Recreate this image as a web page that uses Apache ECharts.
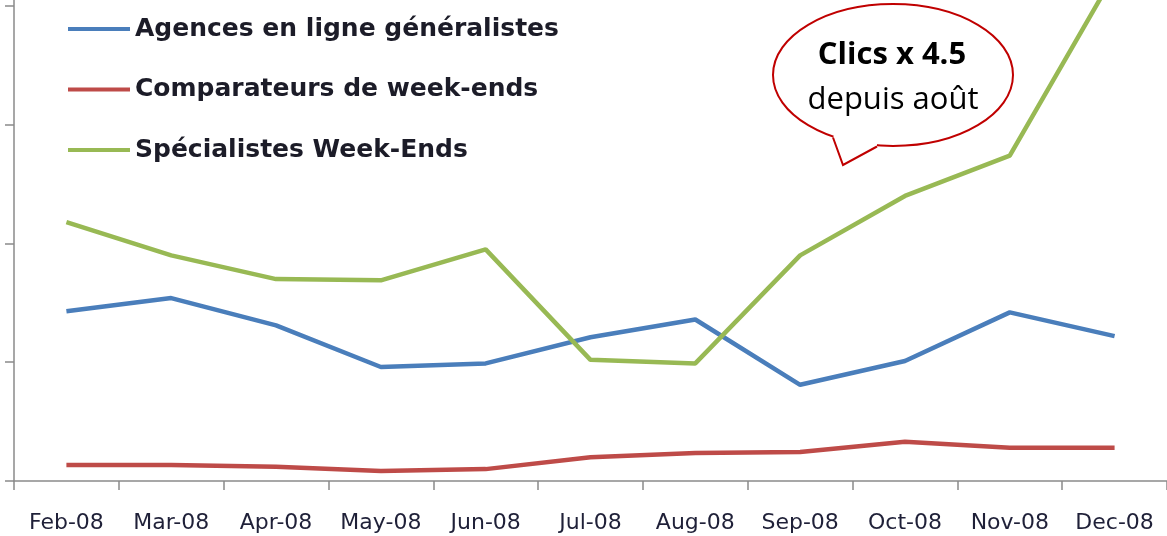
<!DOCTYPE html>
<html>
<head>
<meta charset="utf-8">
<script src="https://cdn.jsdelivr.net/npm/echarts@6/dist/echarts.min.js"></script>
<style>
html,body{margin:0;padding:0;background:#fff;}
#chart{width:1167px;height:536px;}
</style>
</head>
<body>
<div id="chart"></div>
<script>
const categories = ['Feb-08','Mar-08','Apr-08','May-08','Jun-08','Jul-08','Aug-08','Sep-08','Oct-08','Nov-08','Dec-08'];
const seriesNames = ['Agences en ligne généralistes','Comparateurs de week-ends','Spécialistes Week-Ends'];
const agences = [14.3, 15.4, 13.1, 9.6, 9.9, 12.1, 13.6, 8.1, 10.1, 14.2, 12.2];
const comparateurs = [1.35, 1.35, 1.2, 0.85, 1.0, 2.0, 2.35, 2.45, 3.3, 2.8, 2.8];
const specialistes = [21.8, 19.0, 17.0, 16.9, 19.5, 10.2, 9.9, 19.0, 24.0, 27.4, 42.7];
const yTicks = [0, 10, 20, 30, 40];
const calloutLines = ['Clics x 4.5', 'depuis août'];

const chart = echarts.init(document.getElementById('chart'), null, {renderer:'canvas'});
const axisGray = '#8a8a8a';
const option = {
  animation: false,
  backgroundColor: '#ffffff',
  grid: { left: 14, right: -2, top: 0, bottom: 55, containLabel: false },
  legend: {
    data: seriesNames,
    orient: 'vertical',
    left: 63, top: 10,
    icon: 'rect',
    itemWidth: 62, itemHeight: 4,
    itemGap: 32.5,
    textStyle: { fontFamily: 'DejaVu Sans', fontWeight: 'bold', fontSize: 25, color: '#1c1c28', lineHeight: 28 }
  },
  xAxis: {
    type: 'category',
    data: categories,
    boundaryGap: true,
    axisLine: { show: true, lineStyle: { color: axisGray, width: 1.5 } },
    axisTick: { show: true, length: 9, alignWithLabel: false, lineStyle: { color: axisGray, width: 1.5 } },
    axisLabel: { interval: 0, margin: 31, fontFamily: 'DejaVu Sans', fontSize: 22, color: '#1f2038' },
    splitLine: { show: false }
  },
  yAxis: {
    type: 'value',
    min: 0, max: 40.5, interval: 10,
    axisLine: { show: true, lineStyle: { color: axisGray, width: 1.5 } },
    axisTick: { show: true, length: 9, customValues: yTicks, lineStyle: { color: axisGray, width: 1.5 } },
    axisLabel: { show: false },
    splitLine: { show: false }
  },
  series: [
    { name: seriesNames[0], type: 'line', data: agences, symbol: 'none', color: '#4A7EBB', lineStyle: { width: 4.5, color: '#4A7EBB' } },
    { name: seriesNames[1], type: 'line', data: comparateurs, symbol: 'none', color: '#BE4B48', lineStyle: { width: 4.5, color: '#BE4B48' } },
    { name: seriesNames[2], type: 'line', data: specialistes, symbol: 'none', color: '#98B954', lineStyle: { width: 4.5, color: '#98B954' } }
  ],
  graphic: [
    { type: 'ellipse', shape: { cx: 893, cy: 75, rx: 120, ry: 71 }, style: { fill: '#ffffff', stroke: '#C00000', lineWidth: 2 }, z: 100 },
    { type: 'polygon', shape: { points: [[833,138],[843,165],[877,147],[877,141],[835,132]] }, style: { fill: '#ffffff', stroke: null }, z: 101 },
    { type: 'polyline', shape: { points: [[833,137.5],[843,165],[877,146.5]] }, style: { fill: null, stroke: '#C00000', lineWidth: 2 }, z: 102 },
    { type: 'text', x: 892, y: 55, style: { text: calloutLines[0], fontFamily: 'Open Sans', fontWeight: 'bold', fontSize: 31, fill: '#000', align: 'center', verticalAlign: 'middle' }, z: 103 },
    { type: 'text', x: 893, y: 100, style: { text: calloutLines[1], fontFamily: 'Open Sans', fontSize: 31, fill: '#000', align: 'center', verticalAlign: 'middle' }, z: 103 }
  ]
};
chart.setOption(option);
</script>
</body>
</html>
